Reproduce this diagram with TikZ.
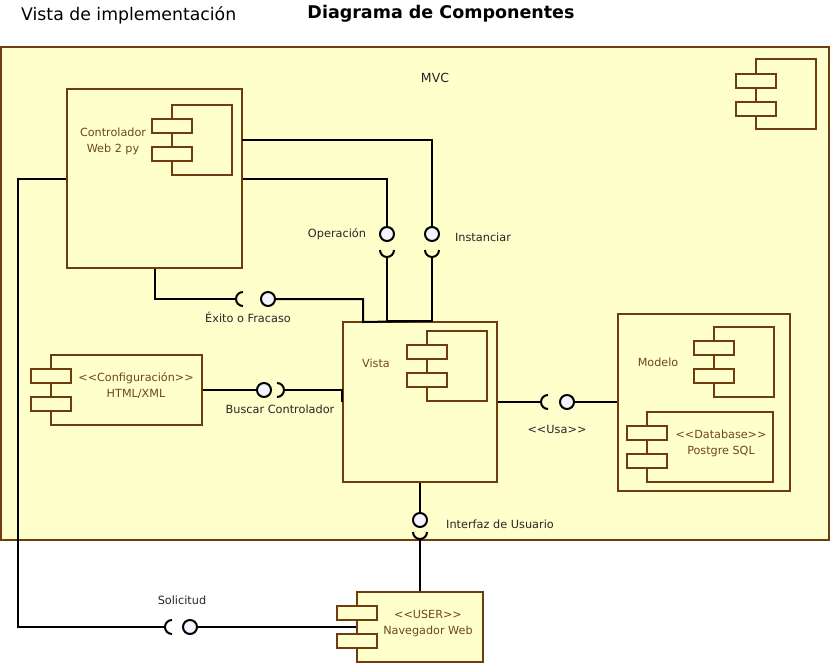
\documentclass[tikz,border=0pt]{standalone}
\usepackage{fontspec}
\setmainfont{DejaVu Sans}
\definecolor{umlbrown}{RGB}{110,60,15}
\definecolor{umlfill}{RGB}{255,255,204}
\definecolor{umltext}{RGB}{110,70,30}
\definecolor{ballfill}{RGB}{244,244,255}
\begin{document}
\begin{tikzpicture}[x=1pt, y=-1pt,
        pkg/.style={rectangle, draw=umlbrown, fill=umlfill, line width=2pt, inner sep=0pt},
        comp/.style={rectangle, draw=umlbrown, fill=umlfill, line width=2pt, inner sep=0pt},
        port/.style={rectangle, draw=umlbrown, fill=umlfill, line width=2pt, inner sep=0pt, minimum width=40pt, minimum height=14pt},
        icon/.style={rectangle, draw=umlbrown, fill=umlfill, line width=2pt, inner sep=0pt, minimum width=60pt, minimum height=70pt},
        ctext/.style={text=umltext, font=\fontsize{11.2}{16}\selectfont, align=center, inner sep=0pt},
        lbl/.style={text=black!85, font=\fontsize{11.3}{13}\selectfont, inner sep=0pt},
        ball/.style={circle, draw=black, fill=ballfill, line width=2pt, minimum size=14pt, inner sep=0pt},
        wire/.style={draw=black, line width=2pt},
        sock/.style={draw=black, line width=2pt}
    ]
        \useasboundingbox (0,0) rectangle (832,665);

        % titles
        \node[font=\fontsize{17.3}{20}\selectfont, anchor=west, inner sep=0pt] (vistaimpl) at (21,15) {Vista de implementación};
        \node[font=\fontsize{17.5}{20}\selectfont\bfseries, inner sep=0pt] (diagtitle) at (441,14) {Diagrama de Componentes};

        % MVC package
        \node[pkg, minimum width=828pt, minimum height=493pt] (mvc) at (415,293.5) {};
        \node[lbl, font=\fontsize{12.5}{14}\selectfont] (mvclbl) at (435,78) {MVC};
        \node[icon] (mvcicon) at (786,94) {};
        \node[port] (mvcpa) at (756,81) {};
        \node[port] (mvcpb) at (756,109) {};

        % Controlador
        \node[comp, minimum width=175pt, minimum height=179pt] (ctrl) at (154.5,178.5) {};
        \node[icon] (ctrlicon) at (202,139.5) {};
        \node[port] (ctrlpa) at (172,126) {};
        \node[port] (ctrlpb) at (172,154) {};
        \node[ctext] (ctrltxt) at (113,141) {Controlador\\Web 2 py};

        % Vista
        \node[comp, minimum width=154pt, minimum height=160pt] (vista) at (420,402) {};
        \node[icon] (vistaicon) at (457,366) {};
        \node[port] (vistapa) at (427,352) {};
        \node[port] (vistapb) at (427,380) {};
        \node[ctext] (vistatxt) at (376,363) {Vista};

        % Configuracion
        \node[comp, minimum width=151pt, minimum height=70pt] (config) at (126.5,390) {};
        \node[port] (configpa) at (51,376) {};
        \node[port] (configpb) at (51,404) {};
        \node[ctext] (configtxt) at (136,386) {<{}<Configuración>{}>\\HTML/XML};

        % Modelo + Database
        \node[comp, minimum width=172pt, minimum height=177pt] (modelo) at (704,402) {};
        \node[icon] (modeloicon) at (743.5,362) {};
        \node[port] (modelopa) at (714,348) {};
        \node[port] (modelopb) at (714,376) {};
        \node[ctext] (modelotxt) at (658,362) {Modelo};
        \node[comp, minimum width=126pt, minimum height=70pt] (db) at (710,447) {};
        \node[port] (dbpa) at (647,433) {};
        \node[port] (dbpb) at (647,461) {};
        \node[ctext] (dbtxt) at (721,443) {<{}<Database>{}>\\Postgre SQL};

        % Navegador Web
        \node[comp, minimum width=126pt, minimum height=70pt] (nav) at (420,627) {};
        \node[port] (navpa) at (357,613) {};
        \node[port] (navpb) at (357,641) {};
        \node[ctext] (navtxt) at (428,623) {<{}<USER>{}>\\Navegador Web};

        % interfaces
        \coordinate (ctrlA) at (242,140);
        \coordinate (vistaA) at (363,322);
        \coordinate (solbend) at (18,627);
        \node[ball] (opball) at (387,234) {};
        \coordinate (opsock) at (387,257);
        \node[ball] (instball) at (432,234) {};
        \coordinate (instsock) at (432,257);
        \coordinate (exsock) at (236,299);
        \node[ball] (exball) at (268,299) {};
        \node[ball] (bcball) at (264,390) {};
        \coordinate (bcsock) at (284,390);
        \coordinate (usasock) at (541,402);
        \node[ball] (usaball) at (567,402) {};
        \node[ball] (uiball) at (420,520) {};
        \coordinate (uisock) at (420,539);
        \coordinate (solsock) at (165,627);
        \node[ball] (solball) at (190,627) {};

        \draw[wire] (ctrlA) -| (instball.north);
        \draw[wire] (instsock) |- (vista.north);
        \draw[wire] (ctrl.east) -| (opball.north);
        \draw[wire] (opsock) |- (vista.north);
        \draw[wire] (ctrl.south) |- (exsock);
        \draw[wire] (exball.east) -| (vistaA) -- (vista.north);
        \draw[wire] (config.east) -- (bcball.west);
        \draw[wire] (bcsock) -| (vista.west);
        \draw[wire] (vista.east) -- (usasock);
        \draw[wire] (usaball.east) -- (modelo.west);
        \draw[wire] (vista.south) -- (uiball.north);
        \draw[wire] (uisock) -- (nav.north);
        \draw[wire] (ctrl.west) -| (solbend) -- (solsock);
        \draw[wire] (solball.east) -- (nav.west);

        % sockets
        \draw[sock] (opsock) arc[start angle=90, end angle=0, radius=7] (opsock) arc[start angle=90, end angle=180, radius=7];
        \draw[sock] (instsock) arc[start angle=90, end angle=0, radius=7] (instsock) arc[start angle=90, end angle=180, radius=7];
        \draw[sock] (uisock) arc[start angle=90, end angle=0, radius=7] (uisock) arc[start angle=90, end angle=180, radius=7];
        \draw[sock] (exsock) arc[start angle=180, end angle=90, radius=7] (exsock) arc[start angle=180, end angle=270, radius=7];
        \draw[sock] (usasock) arc[start angle=180, end angle=90, radius=7] (usasock) arc[start angle=180, end angle=270, radius=7];
        \draw[sock] (solsock) arc[start angle=180, end angle=90, radius=7] (solsock) arc[start angle=180, end angle=270, radius=7];
        \draw[sock] (bcsock) arc[start angle=0, end angle=90, radius=7] (bcsock) arc[start angle=0, end angle=-90, radius=7];

        % labels
        \node[lbl] (oplbl) at (337,234) {Operación};
        \node[lbl] (instlbl) at (483,237) {Instanciar};
        \node[lbl] (exlbl) at (248,317) {Éxito o Fracaso};
        \node[lbl] (bclbl) at (280,409) {Buscar Controlador};
        \node[lbl] (usalbl) at (557,429) {<{}<Usa>{}>};
        \node[lbl, anchor=west] (uilbl) at (446,524) {Interfaz de Usuario};
        \node[lbl] (sollbl) at (182,600) {Solicitud};
    \end{tikzpicture}
\end{document}
